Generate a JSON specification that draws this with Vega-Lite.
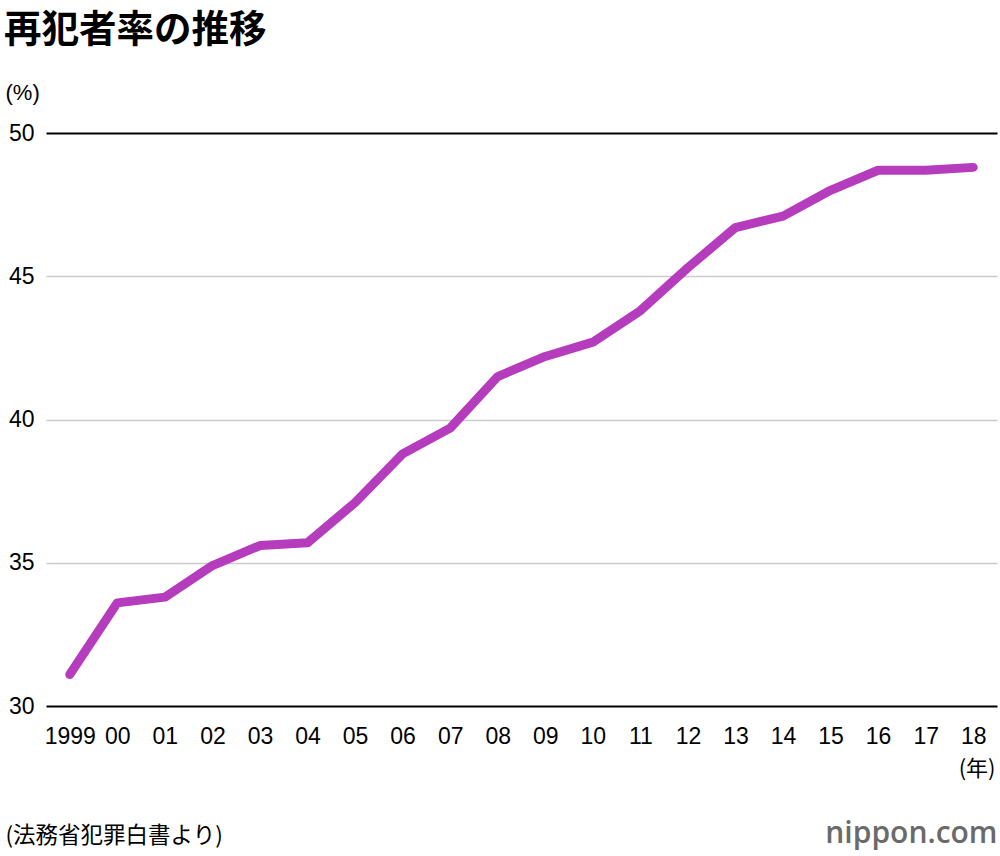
{
  "$schema": "https://vega.github.io/schema/vega-lite/v6.json",
  "autosize": {"type": "none"},
  "width": 951,
  "height": 573,
  "padding": {"left": 46, "top": 133, "right": 3, "bottom": 150},
  "background": "white",
  "config": {
    "view": {"stroke": null},
    "font": "Noto Sans CJK JP"
  },
  "title": {
    "text": "再犯者率の推移",
    "anchor": "start",
    "frame": "group",
    "fontSize": 37.5,
    "fontWeight": "bold",
    "font": "Noto Sans CJK JP",
    "color": "#000000",
    "offset": 32,
    "dx": -42
  },
  "data": {
    "values": [
      {"year": "1999", "rate": 31.1},
      {"year": "00", "rate": 33.6},
      {"year": "01", "rate": 33.8},
      {"year": "02", "rate": 34.9},
      {"year": "03", "rate": 35.6},
      {"year": "04", "rate": 35.7},
      {"year": "05", "rate": 37.1},
      {"year": "06", "rate": 38.8},
      {"year": "07", "rate": 39.7},
      {"year": "08", "rate": 41.5},
      {"year": "09", "rate": 42.2},
      {"year": "10", "rate": 42.7},
      {"year": "11", "rate": 43.8},
      {"year": "12", "rate": 45.3},
      {"year": "13", "rate": 46.7},
      {"year": "14", "rate": 47.1},
      {"year": "15", "rate": 48.0},
      {"year": "16", "rate": 48.7},
      {"year": "17", "rate": 48.7},
      {"year": "18", "rate": 48.8}
    ]
  },
  "layer": [
    {
      "mark": {"type": "line", "color": "#B63CBE", "strokeWidth": 9, "strokeCap": "round", "strokeJoin": "round"},
      "encoding": {
        "x": {
          "field": "year", "type": "ordinal", "sort": null,
          "scale": {"type": "point", "padding": 0.5},
          "axis": {
            "orient": "bottom",
            "labelAngle": 0,
            "labelFontSize": 23,
            "labelFont": "Liberation Sans",
            "labelColor": "#000000",
            "labelPadding": 19,
            "ticks": false,
            "domain": false,
            "grid": false,
            "title": "(年)",
            "titleFontSize": 22,
            "titleFontWeight": "normal",
            "titleFont": "Noto Sans CJK JP",
            "titleColor": "#000000",
            "titleAlign": "right",
            "titleBaseline": "middle",
            "titleAnchor": null,
            "titleX": 949,
            "titleY": 62
          }
        },
        "y": {
          "field": "rate", "type": "quantitative",
          "scale": {"domain": [30, 50], "nice": false, "zero": false},
          "axis": {
            "orient": "left",
            "values": [30, 35, 40, 45, 50],
            "labelFontSize": 23,
            "labelFont": "Liberation Sans",
            "labelColor": "#000000",
            "labelPadding": 12,
            "ticks": false,
            "domain": false,
            "grid": true,
            "gridColor": {"condition": {"test": "datum.value === 30 || datum.value === 50", "value": "#000000"}, "value": "#cccccc"},
            "gridWidth": {"condition": {"test": "datum.value === 30 || datum.value === 50", "value": 2}, "value": 1.5},
            "title": "(%)",
            "titleAngle": 0,
            "titleFontSize": 22,
            "titleFontWeight": "normal",
            "titleFont": "Liberation Sans",
            "titleColor": "#000000",
            "titleAlign": "left",
            "titleBaseline": "middle",
            "titleAnchor": null,
            "titleX": -41,
            "titleY": -41
          }
        }
      }
    },
    {
      "mark": {"type": "point", "opacity": 0},
      "encoding": {
        "x": {
          "field": "year", "type": "ordinal", "sort": null,
          "axis": {
            "orient": "top",
            "labels": false,
            "ticks": false,
            "domain": false,
            "grid": false,
            "title": "(法務省犯罪白書より)",
            "titleFontSize": 22.5,
            "titleFontWeight": "normal",
            "titleFont": "Noto Sans CJK JP",
            "titleColor": "#000000",
            "titleAlign": "left",
            "titleBaseline": "middle",
            "titleAnchor": null,
            "titleX": -41,
            "titleY": 702
          }
        },
        "y": {
          "field": "rate", "type": "quantitative",
          "axis": {
            "orient": "right",
            "labels": false,
            "ticks": false,
            "domain": false,
            "grid": false,
            "title": "nippon.com",
            "titleAngle": 0,
            "titleFontSize": 30,
            "titleFontWeight": 600,
            "titleFont": "Open Sans",
            "titleColor": "#6a6a6a",
            "titleAlign": "right",
            "titleBaseline": "middle",
            "titleAnchor": null,
            "titleX": 0,
            "titleY": 700
          }
        }
      }
    }
  ],
  "resolve": {"axis": {"x": "independent", "y": "independent"}}
}
